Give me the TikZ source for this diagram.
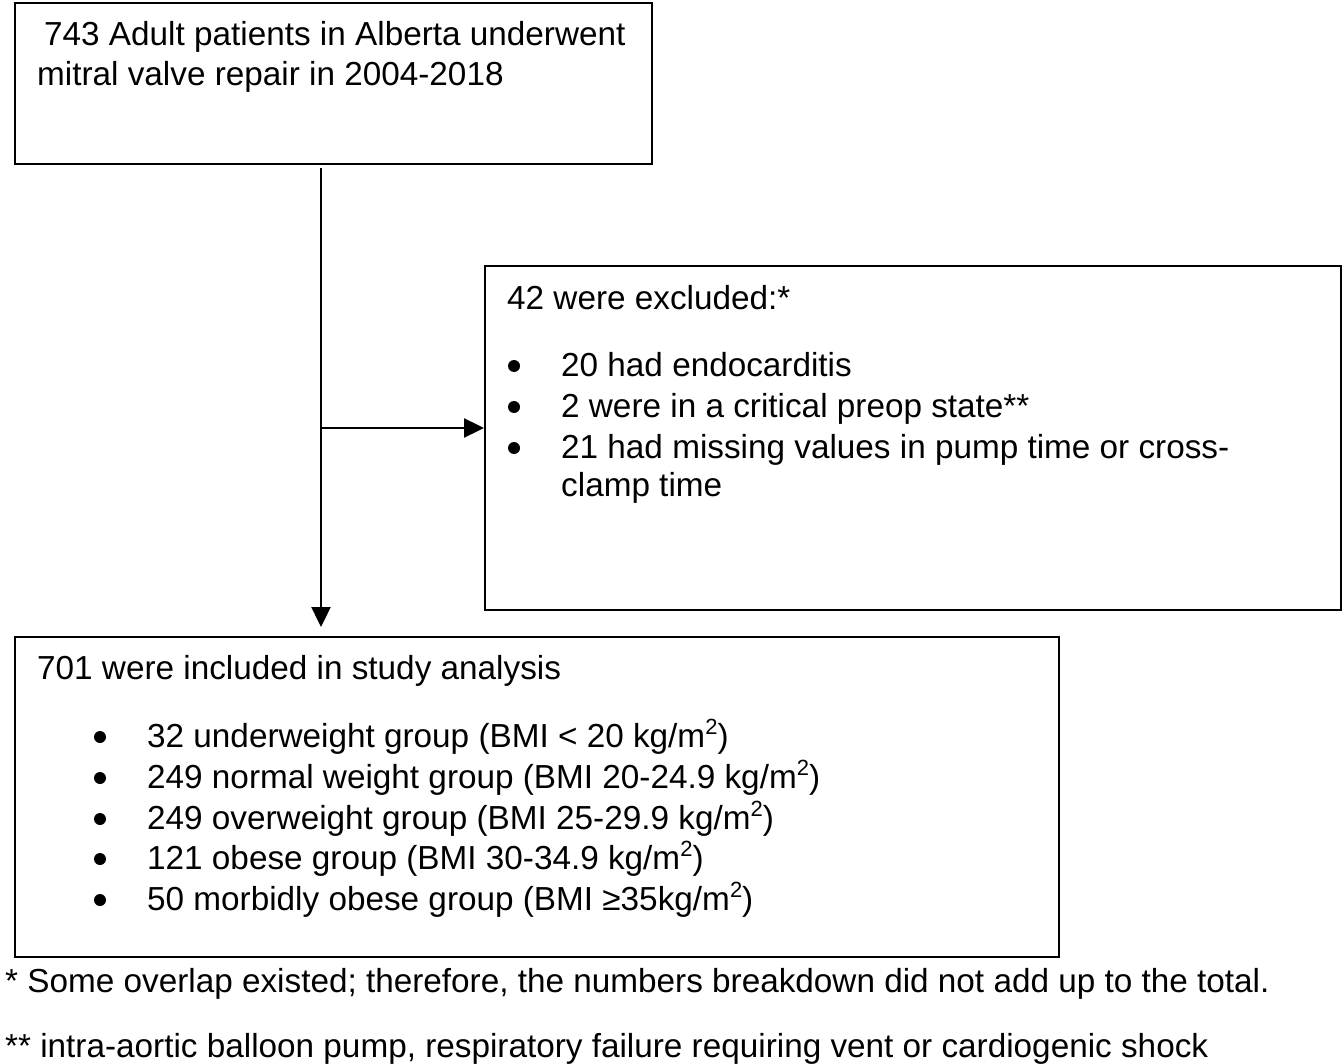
\documentclass[tikz,border=0pt]{standalone}
\usepackage{fontspec}
\setmainfont{Liberation Sans}
\usetikzlibrary{arrows.meta}
\newcommand{\sqm}{m\raisebox{0.38em}{\fontsize{22}{22}\selectfont 2}}
\begin{document}
\begin{tikzpicture}[x=1pt,y=-1pt,
  box/.style={draw=black, line width=2pt, anchor=north west, inner sep=0pt},
  txt/.style={anchor=base west, inner sep=0pt, font=\fontsize{33.3}{40}\selectfont},
  bul/.style={circle, fill=black, inner sep=0pt, minimum size=12pt},
  arr/.style={line width=2.4pt, -{Triangle[length=20pt,width=19pt]}},
  ln/.style={line width=2.4pt}]
\useasboundingbox (0,0) rectangle (1343,1064);
\fill[white] (0,0) rectangle (1343,1064);
% boxes
\node[box, minimum width=637pt, minimum height=161pt] (b1) at (14,2) {};
\node[box, minimum width=856pt, minimum height=344pt] (b2) at (484,265) {};
\node[box, minimum width=1044pt, minimum height=320pt] (b3) at (14,636) {};
% box 1 text
\node[txt] (t1a) at (44,46) {743 Adult patients in Alberta underwent};
\node[txt] (t1b) at (37,86) {mitral valve repair in 2004-2018};
% box 2 text
\node[txt] (t2h) at (507,309) {42 were excluded:*};
\node[bul] (u21) at (514,366) {};
\node[txt] (t21) at (561,376) {20 had endocarditis};
\node[bul] (u22) at (514,407) {};
\node[txt] (t22) at (561,417) {2 were in a critical preop state**};
\node[bul] (u23) at (514,448) {};
\node[txt] (t23) at (561,458) {21 had missing values in pump time or cross-};
\node[txt] (t24) at (561,496) {clamp time};
% box 3 text
\node[txt] (t3h) at (37,679) {701 were included in study analysis};
\node[bul] (u31) at (100,737) {};
\node[txt] (t31) at (147,747) {32 underweight group (BMI < 20 kg/\sqm)};
\node[bul] (u32) at (100,778) {};
\node[txt] (t32) at (147,788) {249 normal weight group (BMI 20-24.9 kg/\sqm)};
\node[bul] (u33) at (100,819) {};
\node[txt] (t33) at (147,829) {249 overweight group (BMI 25-29.9 kg/\sqm)};
\node[bul] (u34) at (100,859) {};
\node[txt] (t34) at (147,869) {121 obese group (BMI 30-34.9 kg/\sqm)};
\node[bul] (u35) at (100,900) {};
\node[txt] (t35) at (147,910) {50 morbidly obese group (BMI ≥35kg/\sqm)};
% footnotes
\node[txt] (f1) at (5,992) {* Some overlap existed; therefore, the numbers breakdown did not add up to the total.};
\node[txt] (f2) at (5,1057) {** intra-aortic balloon pump, respiratory failure requiring vent or cardiogenic shock};
% connectors
\coordinate (s) at (321,168);
\coordinate (j) at (321,428);
\coordinate (e) at (321,627);
\draw[ln] (s) -- (j);
\draw[arr] (j) -- (e);
\draw[arr] (j) -- (b2.west |- j);
\end{tikzpicture}
\end{document}
